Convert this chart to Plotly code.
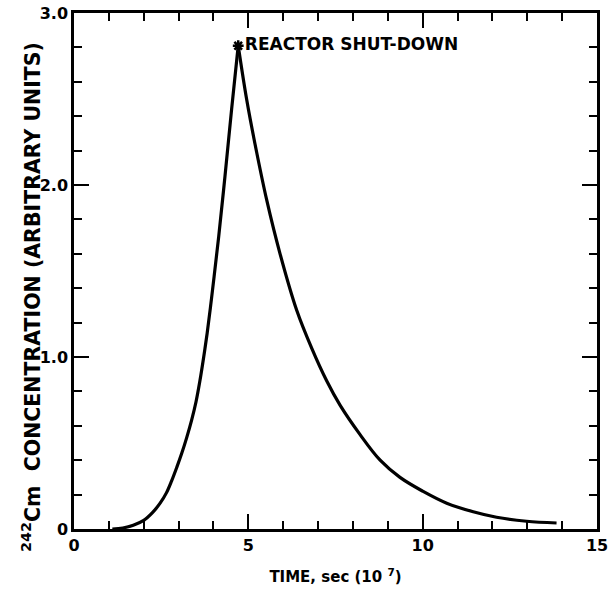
import plotly.graph_objects as go

# Data (time in units of 1e7 s)
time_rise = [1.1, 1.4, 1.7, 2.0, 2.25, 2.47, 2.65, 2.8, 2.95, 3.09, 3.23, 3.37, 3.5, 3.61, 3.72,
             3.82, 3.92, 4.02, 4.15, 4.33, 4.52, 4.71]
conc_rise = [0.0, 0.006, 0.022, 0.05, 0.095, 0.15, 0.21, 0.28, 0.36, 0.44, 0.53, 0.63, 0.74, 0.86, 1.00,
             1.14, 1.30, 1.47, 1.70, 2.05, 2.44, 2.81]

time_fall = [4.71, 4.95, 5.19, 5.53, 5.91, 6.39, 6.82, 7.25, 7.63, 8.2, 8.78, 9.35, 10.0, 10.69, 11.45,
             12.12, 12.98, 13.84]
conc_fall = [2.81, 2.50, 2.24, 1.91, 1.60, 1.27, 1.05, 0.86, 0.72, 0.55, 0.40, 0.30, 0.22, 0.15, 0.10,
             0.068, 0.045, 0.035]

shutdown_time = [4.71]
shutdown_conc = [2.81]
shutdown_label = "REACTOR SHUT-DOWN"

x_tickvals = [0, 5, 10, 15]
x_ticktext = ["0", "5", "10", "15"]
y_tickvals = [0, 1, 2, 3]
y_ticktext = ["0", "1.0", "2.0", "3.0"]

FONT = "DejaVu Sans"

fig = go.Figure()
for xs, ys in ((time_rise, conc_rise), (time_fall, conc_fall)):
    fig.add_trace(go.Scatter(x=xs, y=ys, mode="lines",
                             line=dict(color="black", width=3.2, shape="spline", smoothing=1.0),
                             showlegend=False, hoverinfo="skip"))
fig.add_trace(go.Scatter(x=shutdown_time, y=shutdown_conc, mode="markers+text",
                         marker=dict(symbol="asterisk-open", size=9, color="black",
                                     line=dict(color="black", width=2.5)),
                         text=[shutdown_label], textposition="middle right",
                         textfont=dict(family=FONT, size=17, color="black", weight="bold"),
                         showlegend=False, hoverinfo="skip"))

axis_common = dict(
    showline=True, linecolor="black", linewidth=2.5, mirror="ticks",
    ticks="inside", tickcolor="black", tickwidth=2, ticklen=15,
    showgrid=False, zeroline=False, automargin=False,
    tickfont=dict(family=FONT, size=16, color="black", weight="bold"),
)

fig.update_xaxes(range=[0, 15], tickvals=x_tickvals, ticktext=x_ticktext,
                 minor=dict(ticks="inside", ticklen=8, tickwidth=2, tickcolor="black", dtick=1, tick0=0),
                 title=dict(text="TIME, sec (10 <sup>7</sup>)", standoff=18,
                            font=dict(family=FONT, size=15, color="black", weight="bold")),
                 **axis_common)
fig.update_yaxes(range=[0, 3], tickvals=y_tickvals, ticktext=y_ticktext,
                 minor=dict(ticks="inside", ticklen=8, tickwidth=2, tickcolor="black", dtick=0.2, tick0=0),
                 **axis_common)

fig.add_annotation(text="<sup>242</sup>Cm  CONCENTRATION (ARBITRARY UNITS)",
                   xref="paper", yref="paper", x=-0.08, y=0.45, xanchor="center", yanchor="middle",
                   textangle=-90, showarrow=False,
                   font=dict(family=FONT, size=20.5, color="black", weight="bold"))

fig.update_layout(width=610, height=591, plot_bgcolor="white", paper_bgcolor="white",
                  margin=dict(l=74, r=13, t=13, b=62))

fig.write_html("out.html", config={"displayModeBar": False},
               post_script="document.body.style.margin='0';")
